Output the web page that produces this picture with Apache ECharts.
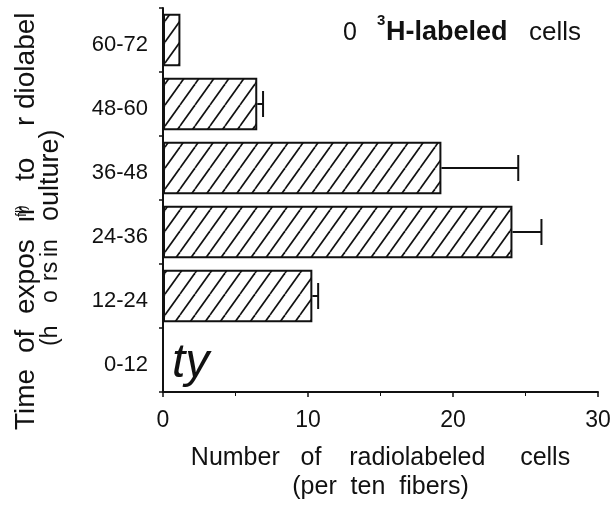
<!DOCTYPE html>
<html><head><meta charset="utf-8">
<script src="https://cdn.jsdelivr.net/npm/echarts@6/dist/echarts.min.js"></script>
<style>html,body{margin:0;padding:0;background:#fff}#c{width:614px;height:507px}</style>
</head><body><div id="c"></div>
<script>
var categories = ['0-12', '12-24', '24-36', '36-48', '48-60', '60-72'];
var counts = [0, 10.3, 24.1, 19.2, 6.5, 1.2];
var errUpper = [null, 10.7, 26.1, 24.5, 6.9, null];
var xTicks = [0, 10, 20, 30];

var FONT = 'Liberation Sans, Arial, sans-serif';

function hatch() {
  var w = 15, h = 21;
  var c = document.createElement('canvas');
  c.width = w; c.height = h;
  var g = c.getContext('2d');
  g.fillStyle = '#fff'; g.fillRect(0, 0, w, h);
  g.strokeStyle = '#111'; g.lineWidth = 1.7;
  for (var k = -1; k <= 1; k++) {
    g.beginPath();
    g.moveTo(k * w, h); g.lineTo(k * w + w, 0);
    g.stroke();
  }
  return c;
}

function vtext(str, x, y, size) {
  return {type: 'text', x: x, y: y, rotation: Math.PI / 2, style: {
    text: str, fontSize: size, fontFamily: FONT, fill: '#111', align: 'left', verticalAlign: 'middle'}};
}

var chart = echarts.init(document.getElementById('c'), null, {renderer: 'canvas'});
var errData = categories.map(function (c, i) { return [i, counts[i], errUpper[i]]; }).filter(function (d) { return d[2] != null; });

chart.setOption({
  animation: false,
  grid: {left: 163, right: 16, top: 8, bottom: 111},
  xAxis: {
    type: 'value', min: 0, max: 30, interval: 10,
    axisLine: {show: true, lineStyle: {color: '#111', width: 2}},
    axisTick: {show: true, length: 5, lineStyle: {color: '#111', width: 1.5}},
    minorTick: {show: true, splitNumber: 2, length: 4, lineStyle: {color: '#111'}},
    splitLine: {show: false},
    axisLabel: {color: '#111', fontSize: 23, fontFamily: FONT, margin: 17,
      formatter: function (v) { return xTicks.indexOf(v) >= 0 ? String(v) : ''; }},
    name: 'Number   of    radiolabeled     cells\n(per  ten  fibers)',
    nameLocation: 'middle', nameGap: 52,
    nameTextStyle: {color: '#111', fontSize: 25, fontFamily: FONT, lineHeight: 29}
  },
  yAxis: {
    type: 'category', data: categories,
    axisLine: {show: true, lineStyle: {color: '#111', width: 2}},
    axisTick: {show: true, length: 4, lineStyle: {color: '#111', width: 1.5}},
    axisLabel: {color: '#111', fontSize: 22, fontFamily: FONT, margin: 15, verticalAlign: 'top', lineHeight: 10}
  },
  series: [{
    type: 'bar', data: counts, barCategoryGap: '18%',
    itemStyle: {color: {image: hatch(), repeat: 'repeat'}, borderColor: '#111', borderWidth: 2}
  }, {
    type: 'custom', data: errData,
    renderItem: function (params, api) {
      var i = api.value(0);
      var a = api.coord([api.value(1), i]);
      var b = api.coord([api.value(2), i]);
      var half = 13;
      return {type: 'group', children: [
        {type: 'line', shape: {x1: a[0], y1: a[1], x2: b[0], y2: b[1]}, style: {stroke: '#111', lineWidth: 2}},
        {type: 'line', shape: {x1: b[0], y1: b[1] - half, x2: b[0], y2: b[1] + half}, style: {stroke: '#111', lineWidth: 2}}
      ]};
    },
    encode: {x: [1, 2], y: 0}, z: 3
  }],
  graphic: [
    {type: 'text', x: 343, y: 33, style: {text: '0', fontSize: 25, fontFamily: FONT, fill: '#111', verticalAlign: 'middle'}},
    {type: 'text', x: 377, y: 13, style: {text: '3', fontSize: 15, fontWeight: 'bold', fontFamily: FONT, fill: '#111', verticalAlign: 'top'}},
    {type: 'text', x: 386, y: 33, style: {text: 'H-labeled', fontSize: 27, fontWeight: 'bold', fontFamily: FONT, fill: '#111', verticalAlign: 'middle'}},
    {type: 'text', x: 529, y: 33, style: {text: 'cells', fontSize: 26, fontFamily: FONT, fill: '#111', verticalAlign: 'middle'}},
    {type: 'text', x: 172, y: 340, style: {text: 'ty', fontSize: 48, fontStyle: 'italic', fontFamily: FONT, fill: '#111'}},
    vtext('Time', 26, 430, 28),
    vtext('of', 26, 353, 28),
    vtext('expos', 26, 314, 28),
    vtext('ır', 26, 223, 28),
    vtext('fl)', 22, 217, 14),
    vtext('to', 26, 181, 28),
    vtext('r', 26, 126, 28),
    vtext('diolabel', 26, 109, 28),
    vtext('(h', 51, 346, 23),
    vtext('o', 51, 303, 23),
    vtext('rs', 51, 281, 23),
    vtext('in', 51, 257, 23),
    vtext('oulture)', 51, 221, 27)
  ]
});
</script></body></html>
